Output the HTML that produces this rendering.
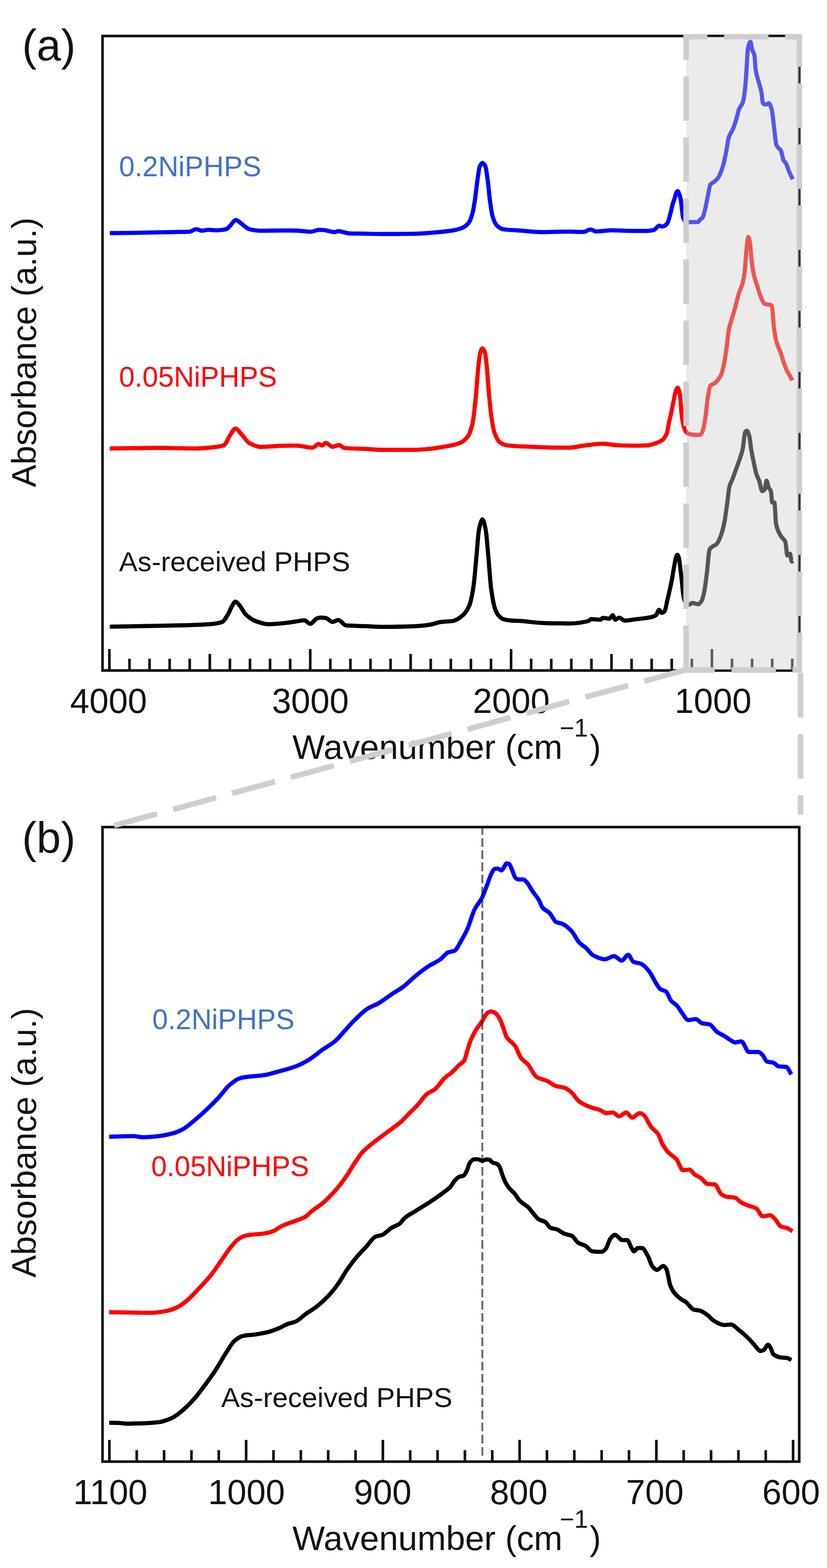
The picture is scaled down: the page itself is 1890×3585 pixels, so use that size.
<!DOCTYPE html>
<html><head><meta charset="utf-8"><title>FTIR spectra</title>
<style>html,body{margin:0;padding:0;background:#fff;overflow:hidden;}svg{display:block;}text{font-family:'Liberation Sans', Arial, Helvetica, sans-serif;}</style></head><body>
<svg width="1890" height="3585" viewBox="0 0 1890 3585">
<rect x="0" y="0" width="1890" height="3585" fill="#fff"/>
<defs><clipPath id="clipA"><rect x="0" y="0" width="1562" height="1600"/></clipPath></defs>
<rect x="234.3" y="82.3" width="1592.2" height="1450.7" fill="none" stroke="#111" stroke-width="6.0"/>
<path d="M250.0,1533V1484 M295.9,1533V1506 M341.8,1533V1506 M387.7,1533V1506 M433.6,1533V1506 M479.5,1533V1495 M525.4,1533V1506 M571.3,1533V1506 M617.2,1533V1506 M663.1,1533V1506 M709.0,1533V1484 M754.9,1533V1506 M800.8,1533V1506 M846.7,1533V1506 M892.6,1533V1506 M938.5,1533V1495 M984.4,1533V1506 M1030.3,1533V1506 M1076.2,1533V1506 M1122.1,1533V1506 M1168.0,1533V1484 M1213.9,1533V1506 M1259.8,1533V1506 M1305.7,1533V1506 M1351.6,1533V1506 M1397.5,1533V1495 M1443.4,1533V1506 M1489.3,1533V1506 M1535.2,1533V1506 M1581.1,1533V1506 M1627.0,1533V1484 M1672.9,1533V1506 M1718.8,1533V1506 M1764.7,1533V1506 M1810.6,1533V1506" stroke="#111" stroke-width="6.0" fill="none"/>
<path d="M250.8,532.9 C267.2,532.8 283.6,532.7 300.0,532.5 C316.7,532.3 333.3,531.8 350.0,531.5 C366.7,531.2 383.3,530.8 400.0,530.5 C411.0,530.3 422.0,530.3 433.0,529.8 C438.1,529.6 443.2,524.0 448.3,524.0 C452.9,524.0 457.4,527.5 462.0,527.5 C467.0,527.5 472.0,525.4 477.0,525.4 C483.0,525.4 489.0,526.5 495.0,526.5 C502.3,526.5 509.5,525.6 516.8,524.0 C520.2,523.2 523.6,518.2 527.0,515.0 C531.0,511.3 534.9,502.9 538.9,502.9 C542.6,502.9 546.3,507.5 550.0,510.0 C556.6,514.4 563.2,522.4 569.8,524.0 C578.6,526.1 587.5,527.6 596.3,527.6 C610.9,527.6 625.4,527.0 640.0,527.0 C652.0,527.0 663.9,527.1 675.9,527.2 C687.6,527.3 699.3,529.8 711.0,529.8 C717.0,529.8 723.0,525.4 729.0,525.4 C733.3,525.4 737.7,525.9 742.0,526.3 C749.4,527.0 756.9,530.7 764.3,530.7 C767.2,530.7 770.1,528.5 773.0,528.5 C781.9,528.5 790.7,533.6 799.6,533.8 C811.1,534.1 822.5,534.0 834.0,534.2 C847.2,534.4 860.4,535.1 873.6,535.1 C898.2,535.1 922.7,534.8 947.3,534.4 C965.7,534.1 984.1,532.4 1002.5,530.7 C1014.8,529.6 1027.0,528.3 1039.3,526.0 C1045.4,524.8 1051.6,523.2 1057.7,520.4 C1062.6,518.1 1067.6,514.4 1072.5,507.5 C1074.9,504.1 1077.4,496.3 1079.8,487.3 C1081.6,480.5 1083.5,469.5 1085.3,457.8 C1087.2,445.9 1089.0,426.3 1090.9,413.6 C1092.7,401.1 1094.6,384.4 1096.4,380.5 C1098.5,376.0 1100.6,372.4 1102.7,372.4 C1104.9,372.4 1107.1,375.9 1109.3,380.5 C1111.1,384.3 1113.0,400.2 1114.8,413.6 C1116.4,425.3 1118.0,446.1 1119.6,457.8 C1121.7,472.9 1123.7,487.7 1125.8,494.6 C1128.9,504.8 1131.9,511.8 1135.0,514.9 C1139.9,519.9 1144.9,523.3 1149.8,524.1 C1162.1,526.0 1174.3,526.1 1186.6,527.0 C1205.0,528.3 1223.4,530.7 1241.8,530.7 C1261.2,530.7 1280.6,529.5 1300.0,529.5 C1311.0,529.5 1322.0,530.3 1333.0,530.3 C1338.6,530.3 1344.1,524.8 1349.7,524.8 C1353.8,524.8 1357.8,529.2 1361.9,529.2 C1374.4,529.2 1386.9,526.4 1399.4,526.4 C1410.4,526.4 1421.5,527.5 1432.5,527.7 C1447.2,527.9 1462.0,528.1 1476.7,528.1 C1482.6,528.1 1488.5,527.2 1494.4,525.9 C1498.4,525.0 1502.5,516.0 1506.5,516.0 C1508.9,516.0 1511.2,518.0 1513.6,518.0 C1515.4,518.0 1517.2,516.9 1519.0,516.0 C1521.0,514.9 1523.1,513.3 1525.1,510.5 C1527.4,507.3 1529.8,496.8 1532.1,488.4 C1533.7,482.5 1535.4,473.8 1537.0,468.0 C1538.6,462.2 1540.3,458.4 1541.9,453.0 C1542.9,449.6 1544.0,444.1 1545.0,442.0 C1546.2,439.6 1547.3,437.1 1548.5,437.1 C1549.7,437.1 1550.8,440.4 1552.0,443.0 C1553.0,445.3 1554.1,448.4 1555.1,453.0 C1556.3,458.2 1557.4,470.6 1558.6,479.5 C1559.4,485.4 1560.1,495.1 1560.9,497.2 C1562.6,501.9 1564.3,504.1 1566.0,505.0 C1569.1,506.7 1572.3,507.8 1575.4,507.8 C1581.9,507.8 1588.4,507.8 1594.9,507.8 C1596.6,507.8 1598.3,503.6 1600.0,502.0 C1601.9,500.2 1603.8,499.9 1605.7,497.4 C1607.7,494.8 1609.7,485.5 1611.7,477.5 C1613.7,469.5 1615.7,457.0 1617.7,447.7 C1619.7,438.5 1621.6,424.4 1623.6,421.8 C1626.3,418.3 1628.9,418.2 1631.6,415.9 C1634.9,413.1 1638.2,410.6 1641.5,405.9 C1644.8,401.2 1648.2,392.4 1651.5,382.1 C1654.1,374.0 1656.8,361.2 1659.4,348.3 C1661.4,338.5 1663.4,320.7 1665.4,314.5 C1668.7,304.3 1672.0,302.6 1675.3,294.6 C1678.0,288.1 1680.6,279.6 1683.3,270.7 C1685.3,264.2 1687.2,253.6 1689.2,248.9 C1691.9,242.5 1694.5,242.3 1697.2,235.0 C1698.8,230.5 1700.5,221.4 1702.1,209.1 C1703.4,199.1 1704.8,178.1 1706.1,159.4 C1707.1,145.4 1708.1,116.6 1709.1,111.7 C1711.1,101.8 1713.1,95.8 1715.1,95.8 C1716.4,95.8 1717.7,109.6 1719.0,113.7 C1720.7,119.0 1722.3,118.7 1724.0,125.6 C1725.0,129.8 1726.0,153.1 1727.0,159.4 C1729.7,176.3 1732.3,181.1 1735.0,191.2 C1736.6,197.4 1738.3,201.2 1739.9,209.1 C1741.2,215.6 1742.6,236.1 1743.9,236.9 C1746.2,238.3 1748.6,238.9 1750.9,238.9 C1752.9,238.9 1754.8,235.9 1756.8,235.9 C1759.1,235.9 1761.5,242.8 1763.8,250.9 C1765.4,256.6 1767.1,276.4 1768.7,288.6 C1770.7,303.6 1772.7,328.0 1774.7,332.4 C1778.0,339.7 1781.4,338.0 1784.7,344.3 C1786.7,348.0 1788.6,362.4 1790.6,366.2 C1792.6,370.1 1794.6,370.6 1796.6,374.1 C1798.6,377.6 1800.5,385.2 1802.5,390.0 C1805.5,397.3 1808.5,403.3 1811.5,409.9" fill="none" stroke="#0000ff" stroke-width="9.5" stroke-linejoin="round" stroke-linecap="butt"/>
<path d="M250.8,1025.4 C289.4,1025.0 328.0,1024.1 366.6,1024.1 C393.1,1024.1 419.6,1025.4 446.1,1025.4 C463.8,1025.4 481.4,1023.5 499.1,1021.0 C503.5,1020.4 508.0,1019.5 512.4,1017.4 C516.8,1015.3 521.2,1001.7 525.6,995.4 C529.7,989.5 533.9,979.9 538.0,979.9 C542.7,979.9 547.5,988.3 552.2,993.1 C558.1,999.1 563.9,1009.8 569.8,1013.0 C578.6,1017.7 587.5,1021.9 596.3,1021.9 C608.1,1021.9 619.9,1020.1 631.7,1019.7 C646.4,1019.2 661.2,1018.8 675.9,1018.8 C688.8,1018.8 701.7,1023.5 714.6,1023.5 C719.0,1023.5 723.5,1015.2 727.9,1015.2 C730.8,1015.2 733.8,1018.5 736.7,1018.5 C739.3,1018.5 741.8,1012.8 744.4,1012.8 C749.6,1012.8 754.7,1021.5 759.9,1021.5 C765.0,1021.5 770.2,1017.4 775.3,1017.4 C779.0,1017.4 782.7,1023.7 786.4,1024.1 C802.3,1025.8 818.1,1025.5 834.0,1026.3 C847.2,1027.0 860.4,1028.5 873.6,1028.5 C898.2,1028.5 922.7,1028.5 947.3,1028.5 C959.6,1028.5 971.8,1027.1 984.1,1025.9 C996.4,1024.7 1008.6,1022.7 1020.9,1020.4 C1030.7,1018.5 1040.6,1016.9 1050.4,1013.0 C1056.5,1010.6 1062.7,1006.2 1068.8,998.3 C1072.5,993.6 1076.1,984.0 1079.8,968.8 C1082.3,958.6 1084.7,933.8 1087.2,909.9 C1089.0,892.1 1090.9,860.7 1092.7,843.6 C1094.3,828.7 1095.9,811.9 1097.5,806.8 C1099.2,801.3 1101.0,796.5 1102.7,796.5 C1104.6,796.5 1106.6,801.0 1108.5,806.8 C1110.0,811.3 1111.5,828.7 1113.0,843.6 C1114.5,858.1 1115.9,882.6 1117.4,898.9 C1119.0,916.7 1120.6,935.1 1122.2,946.7 C1124.6,964.4 1127.1,980.1 1129.5,987.2 C1133.8,999.8 1138.1,1008.3 1142.4,1011.2 C1148.5,1015.4 1154.7,1017.8 1160.8,1018.5 C1175.5,1020.2 1190.3,1020.4 1205.0,1021.1 C1223.4,1022.0 1241.8,1023.1 1260.2,1023.3 C1273.5,1023.4 1286.7,1023.5 1300.0,1023.5 C1311.0,1023.5 1322.1,1020.3 1333.1,1019.0 C1347.8,1017.3 1362.6,1014.6 1377.3,1014.6 C1388.3,1014.6 1399.4,1017.4 1410.4,1017.9 C1425.1,1018.5 1439.9,1019.0 1454.6,1019.0 C1463.1,1019.0 1471.5,1018.7 1480.0,1018.2 C1487.3,1017.8 1494.7,1014.8 1502.0,1012.0 C1506.4,1010.3 1510.9,1008.7 1515.3,1005.0 C1516.9,1003.7 1518.4,1000.6 1520.0,998.0 C1521.4,995.7 1522.8,993.9 1524.2,990.0 C1525.8,985.6 1527.4,972.4 1529.0,965.0 C1530.3,958.9 1531.7,954.4 1533.0,948.4 C1535.4,937.8 1537.7,924.0 1540.1,913.0 C1541.4,906.8 1542.8,899.0 1544.1,895.3 C1545.6,891.2 1547.0,886.5 1548.5,886.5 C1549.7,886.5 1550.8,889.6 1552.0,893.0 C1553.0,896.0 1554.1,904.0 1555.1,913.0 C1556.0,920.8 1556.9,940.6 1557.8,948.4 C1558.5,954.8 1559.3,959.0 1560.0,963.0 C1560.9,967.7 1561.7,972.1 1562.6,974.9 C1564.5,981.0 1566.5,986.3 1568.4,988.1 C1571.3,990.8 1574.3,992.6 1577.2,993.0 C1584.1,994.0 1590.9,994.5 1597.8,994.5 C1599.2,994.5 1600.6,993.8 1602.0,993.0 C1603.7,992.0 1605.3,987.2 1607.0,982.0 C1608.6,977.1 1610.1,967.4 1611.7,957.4 C1613.7,944.7 1615.7,919.2 1617.7,907.7 C1619.7,896.4 1621.6,884.0 1623.6,881.8 C1626.9,878.1 1630.3,878.5 1633.6,875.9 C1638.2,872.2 1642.9,867.3 1647.5,858.0 C1650.1,852.7 1652.8,841.0 1655.4,828.2 C1657.4,818.5 1659.4,803.4 1661.4,788.4 C1662.7,778.4 1664.1,761.5 1665.4,754.6 C1668.0,740.9 1670.7,736.0 1673.3,726.8 C1676.0,717.5 1678.6,708.6 1681.3,698.9 C1683.9,689.4 1686.6,677.5 1689.2,669.1 C1691.9,660.6 1694.5,657.3 1697.2,647.2 C1698.8,641.0 1700.5,632.3 1702.1,619.4 C1703.4,608.9 1704.8,581.6 1706.1,569.7 C1707.4,557.8 1708.8,541.9 1710.1,541.9 C1711.4,541.9 1712.8,548.5 1714.1,555.8 C1715.1,561.2 1716.1,580.9 1717.1,589.6 C1719.1,606.6 1721.0,620.5 1723.0,629.3 C1725.7,641.2 1728.3,646.9 1731.0,655.2 C1733.6,663.4 1736.3,673.1 1738.9,679.0 C1741.9,685.7 1744.9,694.0 1747.9,695.0 C1751.5,696.2 1755.2,696.0 1758.8,696.9 C1760.5,697.3 1762.1,697.6 1763.8,698.9 C1765.4,700.2 1767.1,736.3 1768.7,748.6 C1770.4,761.1 1772.0,771.9 1773.7,778.4 C1777.4,792.8 1781.0,797.5 1784.7,808.3 C1787.0,815.1 1789.3,823.6 1791.6,830.1 C1793.9,836.7 1796.3,843.3 1798.6,848.0 C1800.6,852.0 1802.5,854.4 1804.5,858.0 C1806.5,861.7 1808.5,865.9 1810.5,869.9" fill="none" stroke="#ff0000" stroke-width="9.5" stroke-linejoin="round" stroke-linecap="butt"/>
<path d="M250.8,1432.9 C274.7,1432.5 298.5,1432.1 322.4,1431.6 C351.9,1431.0 381.3,1430.6 410.8,1429.8 C432.9,1429.2 454.9,1428.7 477.0,1427.2 C487.3,1426.5 497.7,1425.4 508.0,1421.9 C512.4,1420.4 516.8,1411.4 521.2,1404.2 C524.5,1398.9 527.7,1389.3 531.0,1384.3 C533.3,1380.7 535.7,1375.5 538.0,1375.5 C541.2,1375.5 544.5,1380.7 547.7,1384.3 C552.1,1389.2 556.6,1399.8 561.0,1404.2 C568.4,1411.5 575.7,1417.0 583.1,1419.7 C593.4,1423.5 603.7,1427.2 614.0,1427.2 C627.3,1427.2 640.5,1425.5 653.8,1424.1 C661.2,1423.3 668.5,1422.0 675.9,1421.0 C682.5,1420.1 689.2,1418.3 695.8,1418.3 C700.2,1418.3 704.6,1426.3 709.0,1426.3 C714.2,1426.3 719.3,1415.5 724.5,1413.9 C727.4,1413.0 730.4,1412.1 733.3,1412.1 C737.0,1412.1 740.7,1412.5 744.4,1413.0 C749.6,1413.7 754.7,1421.9 759.9,1421.9 C764.3,1421.9 768.7,1417.4 773.1,1417.4 C779.0,1417.4 784.9,1429.3 790.8,1429.8 C805.2,1431.1 819.6,1431.0 834.0,1431.6 C847.2,1432.1 860.4,1433.2 873.6,1433.2 C898.2,1433.2 922.7,1432.6 947.3,1431.7 C959.6,1431.3 971.8,1429.9 984.1,1428.0 C991.5,1426.9 998.8,1423.2 1006.2,1422.2 C1016.0,1420.9 1025.8,1421.2 1035.6,1419.6 C1043.0,1418.4 1050.3,1413.1 1057.7,1406.7 C1062.6,1402.4 1067.6,1396.0 1072.5,1384.6 C1075.6,1377.5 1078.6,1363.2 1081.7,1344.1 C1084.1,1329.0 1086.6,1295.6 1089.0,1270.5 C1090.9,1251.2 1092.7,1220.4 1094.6,1211.5 C1097.3,1198.6 1100.0,1187.6 1102.7,1187.6 C1105.1,1187.6 1107.6,1199.3 1110.0,1211.5 C1112.0,1221.4 1113.9,1249.3 1115.9,1270.5 C1118.0,1293.1 1120.1,1328.6 1122.2,1344.1 C1125.3,1366.7 1128.3,1383.6 1131.4,1392.0 C1134.3,1399.8 1137.1,1404.9 1140.0,1408.0 C1143.3,1411.6 1146.7,1414.4 1150.0,1415.5 C1155.0,1417.1 1160.0,1418.1 1165.0,1418.5 C1172.2,1419.1 1179.4,1419.2 1186.6,1419.6 C1205.0,1420.7 1223.4,1423.9 1241.8,1424.4 C1261.2,1425.0 1280.6,1425.4 1300.0,1425.4 C1314.7,1425.4 1329.5,1423.7 1344.2,1420.0 C1346.4,1419.5 1348.6,1415.6 1350.8,1415.6 C1358.2,1415.6 1365.5,1416.7 1372.9,1416.7 C1374.4,1416.7 1375.8,1412.7 1377.3,1412.7 C1382.5,1412.7 1387.6,1414.5 1392.8,1414.5 C1395.4,1414.5 1397.9,1406.8 1400.5,1406.8 C1402.3,1406.8 1404.2,1416.7 1406.0,1416.7 C1409.0,1416.7 1411.9,1412.3 1414.9,1412.3 C1419.3,1412.3 1423.7,1418.9 1428.1,1418.9 C1436.9,1418.9 1445.8,1416.7 1454.6,1415.6 C1465.7,1414.2 1476.7,1413.6 1487.8,1411.2 C1491.5,1410.4 1495.1,1409.2 1498.8,1406.8 C1501.4,1405.1 1503.9,1394.6 1506.5,1394.6 C1508.4,1394.6 1510.2,1401.3 1512.1,1401.3 C1514.3,1401.3 1516.5,1399.9 1518.7,1397.9 C1520.8,1395.9 1523.0,1381.5 1525.1,1372.5 C1528.4,1358.8 1531.6,1345.0 1534.9,1328.4 C1537.0,1317.9 1539.0,1304.0 1541.1,1293.0 C1542.3,1286.8 1543.4,1278.6 1544.6,1275.3 C1545.7,1272.1 1546.9,1268.5 1548.0,1268.5 C1549.2,1268.5 1550.3,1272.2 1551.5,1276.0 C1552.7,1279.9 1553.9,1292.5 1555.1,1301.8 C1556.1,1309.3 1557.0,1317.1 1558.0,1326.0 C1558.8,1333.4 1559.6,1343.6 1560.4,1350.5 C1561.0,1355.7 1561.6,1361.2 1562.2,1364.0 C1563.5,1369.9 1564.7,1374.5 1566.0,1376.0 C1569.3,1379.9 1572.6,1382.3 1575.9,1382.3 C1577.9,1382.3 1579.9,1378.4 1581.9,1378.4 C1586.5,1378.4 1591.2,1381.4 1595.8,1381.4 C1598.4,1381.4 1601.1,1377.7 1603.7,1373.4 C1605.7,1370.1 1607.7,1361.2 1609.7,1351.5 C1611.7,1341.8 1613.7,1323.7 1615.7,1307.8 C1617.7,1292.2 1619.6,1259.6 1621.6,1256.1 C1623.6,1252.5 1625.6,1251.6 1627.6,1250.1 C1630.9,1247.6 1634.2,1247.2 1637.5,1244.2 C1640.8,1241.1 1644.2,1233.1 1647.5,1224.3 C1650.1,1217.4 1652.8,1207.3 1655.4,1194.5 C1657.4,1184.8 1659.4,1168.6 1661.4,1154.7 C1663.4,1140.8 1665.4,1118.1 1667.4,1111.0 C1669.4,1104.0 1671.3,1102.1 1673.3,1097.1 C1676.0,1090.4 1678.6,1082.5 1681.3,1075.2 C1683.9,1067.9 1686.6,1061.1 1689.2,1053.3 C1691.9,1045.4 1694.5,1039.3 1697.2,1027.5 C1699.2,1018.8 1701.1,990.2 1703.1,987.7 C1704.4,986.0 1705.8,984.7 1707.1,984.7 C1708.8,984.7 1710.4,990.2 1712.1,995.7 C1713.8,1001.2 1715.4,1019.8 1717.1,1029.5 C1719.1,1040.9 1721.0,1050.2 1723.0,1059.3 C1725.0,1068.6 1727.0,1079.1 1729.0,1085.1 C1731.0,1091.1 1733.0,1093.5 1735.0,1099.0 C1737.3,1105.4 1739.6,1122.9 1741.9,1122.9 C1743.9,1122.9 1745.9,1121.4 1747.9,1118.9 C1749.2,1117.3 1750.5,1099.0 1751.8,1099.0 C1753.5,1099.0 1755.1,1111.5 1756.8,1115.0 C1758.5,1118.5 1760.1,1118.2 1761.8,1122.9 C1762.8,1125.7 1763.8,1148.8 1764.8,1148.8 C1766.4,1148.8 1768.1,1148.8 1769.7,1148.8 C1771.0,1148.8 1772.4,1191.5 1773.7,1198.4 C1775.4,1207.1 1777.0,1210.5 1778.7,1214.4 C1781.3,1220.5 1784.0,1224.5 1786.6,1228.3 C1789.3,1232.2 1791.9,1232.4 1794.6,1238.2 C1796.3,1241.8 1797.9,1270.0 1799.6,1270.0 C1801.6,1270.0 1803.5,1266.1 1805.5,1266.1 C1806.8,1266.1 1808.2,1283.9 1809.5,1283.9 C1810.5,1283.9 1811.5,1282.6 1812.5,1282.0" fill="none" stroke="#000000" stroke-width="9.5" stroke-linejoin="round" stroke-linecap="butt"/>
<text x="272" y="403" font-size="64.3" fill="#4472c4">0.2NiPHPS</text>
<text x="272" y="884" font-size="64.3" fill="#ff0000">0.05NiPHPS</text>
<text x="272" y="1306" font-size="63.8" fill="#111">As-received PHPS</text>
<text x="50.5" y="138" font-size="100" fill="#111">(a)</text>
<text x="248.2" y="1629.5" font-size="79" text-anchor="middle" fill="#111">4000</text>
<text x="709.3" y="1629.5" font-size="79" text-anchor="middle" fill="#111">3000</text>
<text x="1168.5" y="1629.5" font-size="79" text-anchor="middle" fill="#111">2000</text>
<text x="1629.5" y="1629.5" font-size="79" text-anchor="middle" fill="#111">1000</text>
<text y="1734.5" font-size="78" fill="#111"><tspan x="668.3" font-size="78.6">Wavenumber (cm</tspan><tspan x="1279" y="1683.6" font-size="57">−1</tspan><tspan x="1347.5" y="1734.5">)</tspan></text>
<text transform="translate(82.3,1114) rotate(-90)" x="0" y="0" font-size="77.6" fill="#111">Absorbance (a.u.)</text>
<rect x="1568" y="84" width="259" height="1447.8" fill="rgb(206,206,206)" fill-opacity="0.41"/>
<path d="M1568,1531.8 V84 H1827 V1531.8 Z" fill="none" stroke="#cfcdcf" stroke-width="12.7" stroke-dasharray="101.5 38" stroke-linejoin="miter"/>
<rect x="234.3" y="1891" width="1592.2" height="1450.8" fill="none" stroke="#111" stroke-width="6.0"/>
<path d="M250.0,3342V3292.0 M312.5,3342V3315.6 M375.0,3342V3315.6 M437.5,3342V3315.6 M500.0,3342V3315.6 M562.5,3342V3292.0 M625.0,3342V3315.6 M687.5,3342V3315.6 M750.0,3342V3315.6 M812.5,3342V3315.6 M875.0,3342V3292.0 M937.5,3342V3315.6 M1000.0,3342V3315.6 M1062.5,3342V3315.6 M1125.0,3342V3315.6 M1187.5,3342V3292.0 M1250.0,3342V3315.6 M1312.5,3342V3315.6 M1375.0,3342V3315.6 M1437.5,3342V3315.6 M1500.0,3342V3292.0 M1562.5,3342V3315.6 M1625.0,3342V3315.6 M1687.5,3342V3315.6 M1750.0,3342V3315.6 M1812.5,3342V3292.0" stroke="#111" stroke-width="6.0" fill="none"/>
<path d="M249.5,2599.0 C267.7,2598.5 285.8,2597.5 304.0,2597.5 C311.3,2597.5 318.7,2600.1 326.0,2600.1 C338.3,2600.1 350.6,2598.8 362.9,2597.5 C373.9,2596.3 385.0,2593.9 396.0,2590.9 C403.4,2588.9 410.7,2585.6 418.1,2581.7 C425.5,2577.8 432.8,2571.0 440.2,2565.1 C450.0,2557.2 459.8,2548.4 469.6,2539.3 C479.4,2530.1 489.3,2520.4 499.1,2509.9 C507.7,2500.7 516.3,2487.6 524.9,2480.4 C532.3,2474.2 539.6,2467.9 547.0,2465.7 C553.1,2463.8 559.3,2462.9 565.4,2462.0 C577.7,2460.3 589.9,2460.1 602.2,2458.3 C614.5,2456.5 626.7,2452.4 639.0,2449.1 C651.3,2445.8 663.5,2442.7 675.8,2438.1 C685.6,2434.4 695.5,2429.1 705.3,2423.3 C715.8,2417.1 726.3,2407.6 736.8,2400.2 C746.6,2393.2 756.5,2388.3 766.3,2380.0 C773.7,2373.7 781.0,2364.0 788.4,2356.0 C795.8,2348.0 803.1,2339.3 810.5,2332.1 C820.3,2322.6 830.1,2312.5 839.9,2306.3 C848.5,2300.9 857.1,2298.4 865.7,2293.5 C875.5,2287.9 885.3,2279.7 895.1,2273.2 C903.7,2267.5 912.3,2262.9 920.9,2256.6 C930.7,2249.3 940.6,2238.8 950.4,2230.9 C960.2,2223.0 970.0,2215.2 979.8,2208.8 C988.4,2203.2 997.0,2200.1 1005.6,2194.0 C1011.7,2189.7 1017.9,2179.9 1024.0,2177.5 C1028.9,2175.6 1033.8,2175.9 1038.7,2173.8 C1043.6,2171.7 1048.6,2159.9 1053.5,2151.7 C1058.4,2143.5 1063.3,2135.0 1068.2,2124.1 C1073.5,2112.2 1078.9,2090.8 1084.2,2080.0 C1090.1,2068.1 1096.0,2063.6 1101.9,2051.9 C1105.8,2044.2 1109.7,2032.6 1113.6,2022.5 C1116.6,2014.8 1119.5,2004.8 1122.5,1998.9 C1124.9,1994.1 1127.4,1987.9 1129.8,1987.1 C1132.3,1986.3 1134.7,1985.7 1137.2,1985.7 C1140.1,1985.7 1143.1,1990.0 1146.0,1990.0 C1148.0,1990.0 1149.9,1985.4 1151.9,1982.7 C1153.9,1980.0 1155.8,1973.9 1157.8,1973.9 C1159.8,1973.9 1161.7,1974.5 1163.7,1975.3 C1165.7,1976.1 1167.6,1982.9 1169.6,1987.1 C1172.5,1993.4 1175.5,2005.3 1178.4,2007.7 C1180.4,2009.3 1182.3,2010.7 1184.3,2010.7 C1188.2,2010.7 1192.2,2010.7 1196.1,2010.7 C1198.6,2010.7 1201.0,2014.1 1203.5,2016.6 C1207.9,2021.1 1212.3,2030.7 1216.7,2037.2 C1221.6,2044.5 1226.6,2049.4 1231.5,2057.8 C1234.3,2062.6 1237.2,2072.3 1240.0,2075.5 C1245.3,2081.6 1250.7,2082.1 1256.0,2087.3 C1260.9,2092.1 1265.9,2105.5 1270.8,2107.9 C1275.7,2110.3 1280.6,2110.2 1285.5,2112.3 C1292.4,2115.2 1299.2,2121.4 1306.1,2128.5 C1312.0,2134.6 1317.9,2148.9 1323.8,2155.0 C1328.7,2160.1 1333.6,2162.5 1338.5,2166.8 C1344.4,2172.0 1350.3,2181.5 1356.2,2184.5 C1365.0,2189.1 1373.9,2193.3 1382.7,2193.3 C1389.6,2193.3 1396.4,2186.0 1403.3,2186.0 C1409.2,2186.0 1415.1,2196.3 1421.0,2196.3 C1425.9,2196.3 1430.8,2183.0 1435.7,2183.0 C1439.6,2183.0 1443.6,2197.5 1447.5,2199.2 C1453.4,2201.8 1459.3,2201.3 1465.2,2203.6 C1471.1,2205.9 1476.9,2212.8 1482.8,2219.8 C1488.5,2226.7 1494.3,2240.5 1500.0,2249.0 C1503.2,2253.8 1506.5,2259.9 1509.7,2261.9 C1513.8,2264.4 1517.8,2264.1 1521.9,2266.7 C1525.9,2269.3 1530.0,2284.1 1534.0,2288.6 C1538.1,2293.1 1542.1,2294.2 1546.2,2298.3 C1550.2,2302.4 1554.3,2310.1 1558.3,2315.3 C1563.2,2321.5 1568.0,2332.3 1572.9,2332.3 C1578.6,2332.3 1584.2,2329.9 1589.9,2329.9 C1594.8,2329.9 1599.6,2338.4 1604.5,2339.6 C1610.2,2341.0 1615.8,2340.6 1621.5,2342.1 C1627.2,2343.6 1632.8,2355.0 1638.5,2359.1 C1644.2,2363.2 1649.8,2365.3 1655.5,2368.8 C1660.4,2371.8 1665.2,2375.7 1670.1,2378.5 C1673.3,2380.3 1676.6,2383.4 1679.8,2383.4 C1684.7,2383.4 1689.5,2381.0 1694.4,2381.0 C1700.1,2381.0 1705.7,2405.2 1711.4,2405.2 C1718.7,2405.2 1726.0,2405.2 1733.3,2405.2 C1736.5,2405.2 1739.8,2409.3 1743.0,2412.5 C1746.2,2415.7 1749.5,2426.1 1752.7,2427.1 C1757.6,2428.6 1762.4,2428.2 1767.3,2429.5 C1771.4,2430.6 1775.4,2437.6 1779.5,2438.1 C1785.2,2438.9 1790.8,2438.5 1796.5,2439.3 C1800.5,2439.9 1804.6,2450.6 1808.6,2456.3" fill="none" stroke="#0000ff" stroke-width="9.5" stroke-linejoin="round" stroke-linecap="butt"/>
<path d="M249.5,3000.1 C262.7,3000.3 276.0,3000.6 289.2,3000.8 C307.6,3001.1 326.1,3001.6 344.5,3001.6 C356.8,3001.6 369.0,2999.4 381.3,2997.1 C389.9,2995.5 398.4,2992.0 407.0,2987.9 C413.2,2984.9 419.3,2980.0 425.5,2975.0 C435.3,2967.1 445.1,2956.0 454.9,2945.6 C464.7,2935.2 474.6,2924.9 484.4,2912.5 C493.0,2901.7 501.5,2887.7 510.1,2875.6 C516.3,2866.9 522.4,2857.1 528.6,2849.9 C534.7,2842.8 540.9,2835.0 547.0,2831.5 C553.1,2828.0 559.3,2825.2 565.4,2824.1 C577.7,2822.0 589.9,2822.2 602.2,2820.4 C609.6,2819.3 616.9,2817.5 624.3,2814.9 C630.4,2812.7 636.6,2806.8 642.7,2803.8 C653.7,2798.5 664.8,2795.4 675.8,2791.0 C683.2,2788.0 690.5,2786.1 697.9,2781.8 C702.8,2779.0 707.7,2772.8 712.6,2768.9 C720.7,2762.4 728.7,2758.1 736.8,2751.3 C746.6,2743.1 756.5,2732.9 766.3,2721.8 C774.9,2712.1 783.4,2701.0 792.0,2688.7 C798.2,2679.9 804.3,2668.4 810.5,2659.2 C816.6,2650.1 822.8,2640.1 828.9,2633.5 C837.5,2624.3 846.0,2618.3 854.6,2611.4 C864.4,2603.5 874.3,2596.7 884.1,2589.3 C893.9,2581.9 903.7,2575.7 913.5,2567.2 C920.9,2560.8 928.2,2552.5 935.6,2545.1 C941.7,2539.0 947.9,2533.3 954.0,2526.7 C961.4,2518.8 968.7,2506.6 976.1,2500.9 C982.3,2496.1 988.4,2494.7 994.6,2489.9 C1001.9,2484.2 1009.3,2470.7 1016.6,2464.1 C1021.5,2459.7 1026.5,2457.2 1031.4,2453.0 C1037.5,2447.8 1043.7,2440.3 1049.8,2434.6 C1053.5,2431.2 1057.1,2430.2 1060.8,2425.0 C1063.2,2421.6 1065.6,2409.7 1068.0,2402.0 C1070.0,2395.7 1071.9,2388.4 1073.9,2383.1 C1076.3,2376.8 1078.6,2371.7 1081.0,2367.0 C1083.5,2362.0 1086.1,2357.6 1088.6,2353.6 C1090.7,2350.3 1092.9,2347.6 1095.0,2344.5 C1097.3,2341.2 1099.6,2338.1 1101.9,2334.5 C1104.8,2330.0 1107.8,2323.4 1110.7,2319.8 C1112.5,2317.6 1114.2,2315.4 1116.0,2314.5 C1118.2,2313.4 1120.3,2312.4 1122.5,2312.4 C1124.3,2312.4 1126.2,2313.3 1128.0,2314.0 C1130.1,2314.8 1132.2,2316.4 1134.3,2318.3 C1137.2,2321.0 1140.2,2325.9 1143.1,2331.5 C1145.6,2336.2 1148.0,2344.0 1150.5,2350.7 C1152.9,2357.3 1155.4,2367.3 1157.8,2371.3 C1159.5,2374.1 1161.3,2375.8 1163.0,2377.5 C1165.2,2379.7 1167.4,2381.0 1169.6,2383.1 C1172.5,2386.0 1175.5,2389.0 1178.4,2393.4 C1181.4,2397.9 1184.3,2406.9 1187.3,2412.5 C1188.8,2415.3 1190.2,2418.2 1191.7,2420.0 C1196.5,2426.0 1201.2,2427.8 1206.0,2433.0 C1212.9,2440.5 1219.7,2458.4 1226.6,2462.5 C1234.4,2467.2 1242.3,2467.7 1250.1,2471.3 C1257.0,2474.4 1263.9,2481.0 1270.8,2483.1 C1277.7,2485.2 1284.5,2485.2 1291.4,2487.5 C1296.3,2489.2 1301.2,2493.5 1306.1,2497.8 C1312.0,2502.9 1317.9,2514.2 1323.8,2518.4 C1332.6,2524.8 1341.5,2528.5 1350.3,2531.7 C1357.2,2534.2 1364.0,2535.1 1370.9,2537.6 C1375.8,2539.4 1380.7,2544.9 1385.6,2544.9 C1390.5,2544.9 1395.5,2543.5 1400.4,2543.5 C1405.3,2543.5 1410.2,2552.3 1415.1,2552.3 C1420.5,2552.3 1425.9,2543.5 1431.3,2543.5 C1435.7,2543.5 1440.1,2555.3 1444.5,2555.3 C1450.4,2555.3 1456.3,2545.0 1462.2,2545.0 C1465.2,2545.0 1468.1,2547.3 1471.1,2549.4 C1477.0,2553.6 1482.8,2570.2 1488.7,2577.3 C1493.6,2583.3 1498.6,2585.1 1503.5,2592.1 C1507.2,2597.3 1510.9,2610.6 1514.6,2617.0 C1518.6,2624.0 1522.7,2629.6 1526.7,2634.0 C1533.2,2641.1 1539.7,2643.4 1546.2,2651.0 C1551.1,2656.7 1555.9,2675.3 1560.8,2675.3 C1565.6,2675.3 1570.5,2674.1 1575.3,2674.1 C1579.4,2674.1 1583.4,2682.2 1587.5,2685.1 C1592.4,2688.6 1597.2,2690.1 1602.1,2693.6 C1606.9,2697.0 1611.8,2706.3 1616.6,2706.9 C1622.3,2707.7 1628.0,2707.3 1633.7,2708.1 C1638.5,2708.8 1643.4,2726.4 1648.2,2730.0 C1652.3,2733.0 1656.3,2735.3 1660.4,2736.1 C1666.9,2737.4 1673.3,2737.1 1679.8,2738.5 C1684.7,2739.6 1689.5,2746.8 1694.4,2749.5 C1700.1,2752.6 1705.7,2754.5 1711.4,2756.7 C1717.1,2758.9 1722.7,2759.6 1728.4,2762.8 C1733.3,2765.6 1738.1,2781.0 1743.0,2781.0 C1748.7,2781.0 1754.3,2778.6 1760.0,2778.6 C1764.1,2778.6 1768.1,2784.3 1772.2,2788.3 C1776.2,2792.3 1780.3,2802.4 1784.3,2804.1 C1789.2,2806.2 1794.0,2806.0 1798.9,2807.8 C1803.0,2809.3 1807.0,2812.7 1811.1,2815.1" fill="none" stroke="#ff0000" stroke-width="9.5" stroke-linejoin="round" stroke-linecap="butt"/>
<path d="M249.5,3253.0 C256.6,3253.1 263.7,3253.1 270.8,3253.3 C276.9,3253.5 283.1,3255.0 289.2,3255.0 C301.5,3255.0 313.7,3254.6 326.0,3254.2 C338.3,3253.8 350.6,3253.0 362.9,3251.6 C372.7,3250.4 382.5,3246.7 392.3,3242.4 C400.9,3238.6 409.5,3231.2 418.1,3224.0 C426.7,3216.8 435.3,3207.9 443.9,3198.2 C452.5,3188.6 461.0,3176.7 469.6,3165.1 C478.2,3153.5 486.8,3141.5 495.4,3128.3 C502.8,3117.0 510.1,3102.7 517.5,3091.5 C523.6,3082.2 529.8,3070.9 535.9,3065.7 C542.0,3060.5 548.2,3055.9 554.3,3054.6 C564.1,3052.5 574.0,3052.5 583.8,3051.0 C593.6,3049.5 603.4,3047.8 613.2,3045.4 C621.8,3043.3 630.4,3039.8 639.0,3036.2 C645.1,3033.6 651.3,3029.3 657.4,3027.0 C663.5,3024.7 669.7,3024.1 675.8,3021.5 C683.2,3018.4 690.5,3010.2 697.9,3004.9 C707.2,2998.2 716.5,2993.0 725.8,2985.6 C734.4,2978.8 742.9,2970.9 751.5,2961.7 C758.9,2953.8 766.2,2944.5 773.6,2934.1 C779.7,2925.5 785.9,2913.5 792.0,2904.6 C799.4,2893.9 806.7,2884.0 814.1,2875.2 C821.5,2866.4 828.8,2859.3 836.2,2851.3 C843.6,2843.3 850.9,2830.2 858.3,2827.3 C863.2,2825.4 868.2,2825.4 873.1,2823.6 C880.4,2820.9 887.8,2811.5 895.1,2807.1 C901.2,2803.4 907.4,2802.3 913.5,2797.9 C917.2,2795.2 920.9,2788.2 924.6,2785.0 C933.2,2777.6 941.8,2773.9 950.4,2768.4 C960.2,2762.2 970.0,2756.3 979.8,2750.0 C984.7,2746.8 989.7,2743.6 994.6,2740.2 C1003.1,2734.3 1011.5,2728.3 1020.0,2721.6 C1022.9,2719.3 1025.9,2717.4 1028.8,2714.3 C1032.2,2710.7 1035.7,2703.2 1039.1,2699.5 C1042.6,2695.8 1046.0,2692.2 1049.5,2690.7 C1052.9,2689.2 1056.4,2689.5 1059.8,2687.7 C1062.2,2686.5 1064.7,2681.0 1067.1,2676.0 C1069.1,2672.0 1071.0,2662.8 1073.0,2659.8 C1076.0,2655.3 1078.9,2651.3 1081.9,2650.9 C1084.8,2650.5 1087.8,2650.2 1090.7,2650.2 C1094.6,2650.2 1098.6,2653.9 1102.5,2653.9 C1105.4,2653.9 1108.4,2650.9 1111.3,2650.9 C1113.8,2650.9 1116.2,2651.2 1118.7,2651.7 C1121.1,2652.2 1123.6,2657.2 1126.0,2658.3 C1129.4,2659.8 1132.9,2659.5 1136.3,2661.2 C1138.3,2662.2 1140.2,2665.1 1142.2,2668.6 C1144.2,2672.1 1146.1,2681.1 1148.1,2686.3 C1150.6,2692.9 1153.0,2699.3 1155.5,2703.9 C1158.4,2709.4 1161.4,2713.6 1164.3,2717.2 C1168.2,2722.0 1172.2,2724.4 1176.1,2729.0 C1179.5,2733.1 1183.0,2740.0 1186.4,2743.7 C1189.8,2747.4 1193.3,2749.8 1196.7,2752.5 C1200.1,2755.2 1203.6,2756.9 1207.0,2760.0 C1210.3,2763.0 1213.7,2768.4 1217.0,2772.2 C1221.9,2777.8 1226.7,2785.0 1231.6,2787.9 C1236.5,2790.8 1241.3,2791.0 1246.2,2794.0 C1250.2,2796.5 1254.3,2805.7 1258.3,2807.4 C1263.2,2809.4 1268.0,2809.3 1272.9,2811.0 C1278.6,2812.9 1284.2,2818.7 1289.9,2820.8 C1295.6,2822.9 1301.2,2823.0 1306.9,2825.6 C1311.8,2827.8 1316.6,2838.4 1321.5,2841.4 C1327.2,2844.9 1332.8,2845.5 1338.5,2848.7 C1343.4,2851.5 1348.2,2860.4 1353.1,2860.9 C1360.4,2861.7 1367.7,2862.1 1375.0,2862.1 C1378.2,2862.1 1381.5,2858.5 1384.7,2854.8 C1387.9,2851.2 1391.2,2837.1 1394.4,2832.9 C1398.0,2828.2 1401.7,2823.2 1405.3,2823.2 C1408.2,2823.2 1411.0,2827.1 1413.9,2829.3 C1416.3,2831.1 1418.7,2835.3 1421.1,2835.3 C1425.2,2835.3 1429.2,2835.3 1433.3,2835.3 C1436.5,2835.3 1439.8,2847.3 1443.0,2852.3 C1445.0,2855.5 1447.1,2860.9 1449.1,2860.9 C1451.9,2860.9 1454.8,2853.6 1457.6,2853.6 C1460.8,2853.6 1464.1,2853.6 1467.3,2853.6 C1471.4,2853.6 1475.4,2862.8 1479.5,2869.4 C1483.5,2876.0 1487.6,2891.7 1491.6,2896.1 C1494.8,2899.7 1498.1,2903.4 1501.3,2903.4 C1506.2,2903.4 1511.0,2894.6 1515.9,2894.6 C1518.3,2894.6 1520.7,2898.0 1523.1,2901.9 C1525.9,2906.5 1528.8,2930.6 1531.6,2938.3 C1534.0,2944.9 1536.5,2949.5 1538.9,2952.9 C1544.6,2960.8 1550.2,2965.7 1555.9,2969.9 C1559.9,2972.9 1564.0,2974.2 1568.0,2977.2 C1573.7,2981.4 1579.4,2992.6 1585.1,2994.2 C1589.9,2995.5 1594.8,2995.4 1599.6,2996.6 C1605.3,2998.0 1610.9,3002.4 1616.6,3006.4 C1621.5,3009.9 1626.3,3016.9 1631.2,3019.7 C1639.3,3024.4 1647.4,3029.5 1655.5,3029.5 C1660.4,3029.5 1665.2,3028.2 1670.1,3028.2 C1676.6,3028.2 1683.0,3036.6 1689.5,3041.6 C1696.0,3046.6 1702.5,3052.3 1709.0,3058.6 C1713.9,3063.3 1718.7,3069.3 1723.6,3074.4 C1728.5,3079.5 1733.3,3089.0 1738.2,3089.0 C1740.6,3089.0 1743.0,3087.8 1745.4,3086.6 C1748.7,3084.9 1751.9,3074.4 1755.2,3074.4 C1757.2,3074.4 1759.2,3078.5 1761.2,3081.7 C1763.2,3085.0 1765.3,3094.6 1767.3,3096.3 C1773.0,3100.9 1778.6,3102.8 1784.3,3103.6 C1789.2,3104.3 1794.0,3104.1 1798.9,3104.8 C1802.1,3105.3 1805.4,3108.0 1808.6,3109.6" fill="none" stroke="#000000" stroke-width="9.5" stroke-linejoin="round" stroke-linecap="butt"/>
<path d="M1102.3,1888.6 V3330" stroke="#000" stroke-opacity="0.58" stroke-width="4.5" stroke-dasharray="19.8 8.04" fill="none"/>
<text x="348" y="2353" font-size="64.3" fill="#4472c4">0.2NiPHPS</text>
<text x="345.5" y="2688.6" font-size="64.3" fill="#ff0000">0.05NiPHPS</text>
<text x="505.5" y="3216.8" font-size="63.8" fill="#111">As-received PHPS</text>
<text x="50.3" y="1950" font-size="100" fill="#111">(b)</text>
<text x="252.1" y="3438.5" font-size="79" text-anchor="middle" fill="#111">1100</text>
<text x="563.3" y="3438.5" font-size="79" text-anchor="middle" fill="#111">1000</text>
<text x="874.5" y="3438.5" font-size="79" text-anchor="middle" fill="#111">900</text>
<text x="1185.6" y="3438.5" font-size="79" text-anchor="middle" fill="#111">800</text>
<text x="1496.5" y="3438.5" font-size="79" text-anchor="middle" fill="#111">700</text>
<text x="1808.0" y="3438.5" font-size="79" text-anchor="middle" fill="#111">600</text>
<text y="3544.0" font-size="78" fill="#111"><tspan x="668.3" font-size="78.6">Wavenumber (cm</tspan><tspan x="1279" y="3492.5" font-size="57">−1</tspan><tspan x="1347.5" y="3544.0">)</tspan></text>
<text transform="translate(82.3,2921.2) rotate(-90)" x="0" y="0" font-size="77.6" fill="#111">Absorbance (a.u.)</text>
<path d="M261,1887.2 L1569,1531" fill="none" stroke="#cfcdcf" stroke-width="12.7" stroke-dasharray="101.5 38"/>
<path d="M1829.5,1539 V1863" fill="none" stroke="#cfcdcf" stroke-width="12.7" stroke-dasharray="101.5 38"/>
</svg></body></html>
